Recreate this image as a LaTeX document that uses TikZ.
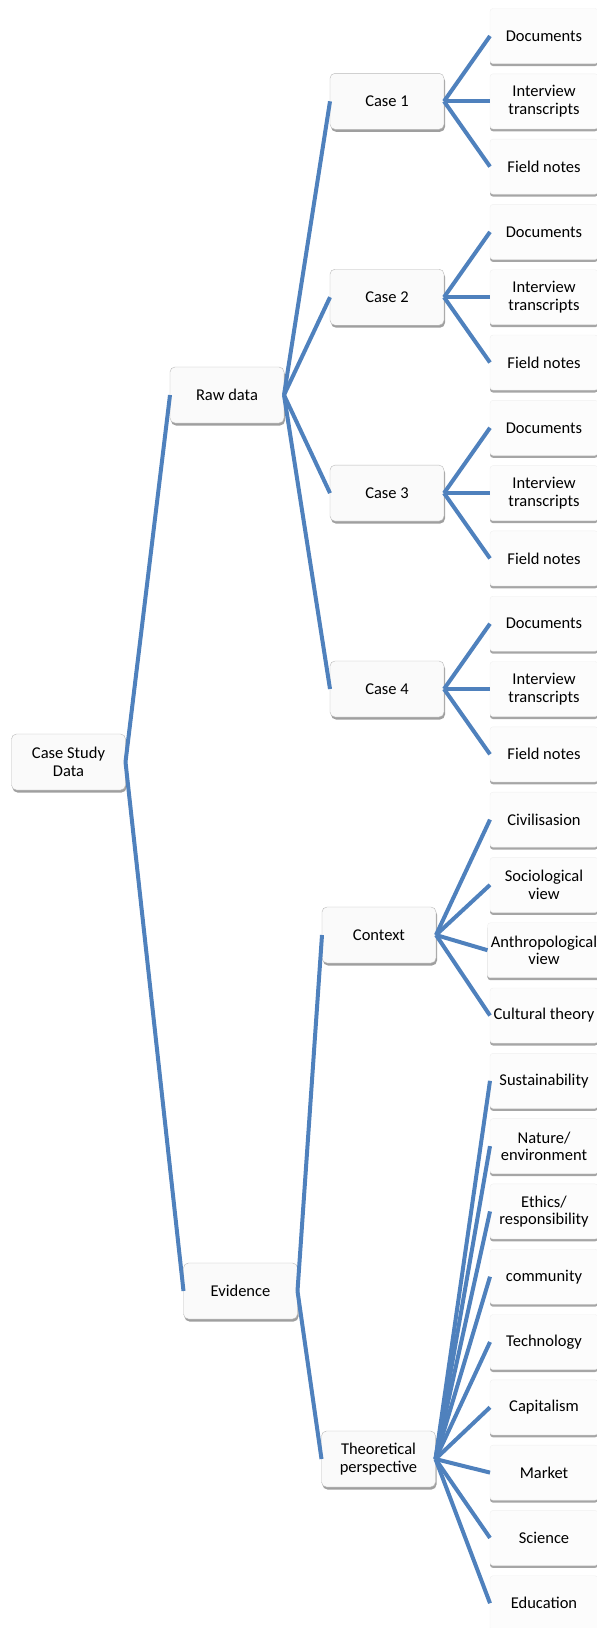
\documentclass[tikz,border=0pt]{standalone}
\usepackage{fontspec}
\setmainfont{Carlito}
\usetikzlibrary{positioning}
\usetikzlibrary{shadows}

\definecolor{linkblue}{RGB}{79,129,189}

\begin{document}
\begin{tikzpicture}[x=1pt,y=-1pt,font=\fontsize{16.5}{17.5}\selectfont,
	topic/.style={minimum width=114pt,minimum height=56pt,outer sep=0pt,align=center,rounded corners=5pt,draw=gray!55,fill=gray!4,drop shadow={shadow xshift=1pt,shadow yshift=-2.5pt,fill=gray!75,opacity=1}},
	leaf/.style={minimum width=108pt,minimum height=55pt,outer sep=0pt,align=center,rounded corners=3pt,draw=gray!12,fill=gray!2,drop shadow={shadow xshift=0pt,shadow yshift=-2.5pt,fill=gray!70,opacity=1}},
	link/.style={draw=linkblue,line width=4pt}]
	\clip (0,0) rectangle (597,1628);

	% leaves, top to bottom
	\node [leaf] at (544,36) (c1doc) {Documents};
	\node [leaf,below=10.3pt of c1doc] (c1int) {Interview\\transcripts};
	\node [leaf,below=10.3pt of c1int] (c1fld) {Field notes};
	\node [leaf,below=10.3pt of c1fld] (c2doc) {Documents};
	\node [leaf,below=10.3pt of c2doc] (c2int) {Interview\\transcripts};
	\node [leaf,below=10.3pt of c2int] (c2fld) {Field notes};
	\node [leaf,below=10.3pt of c2fld] (c3doc) {Documents};
	\node [leaf,below=10.3pt of c3doc] (c3int) {Interview\\transcripts};
	\node [leaf,below=10.3pt of c3int] (c3fld) {Field notes};
	\node [leaf,below=10.3pt of c3fld] (c4doc) {Documents};
	\node [leaf,below=10.3pt of c4doc] (c4int) {Interview\\transcripts};
	\node [leaf,below=10.3pt of c4int] (c4fld) {Field notes};

	\node [leaf,below=10.3pt of c4fld] (civ) {Civilisasion};
	\node [leaf,below=10.3pt of civ] (soc) {Sociological\\view};
	\node [leaf,below=10.3pt of soc] (ant) {Anthropological\\view};
	\node [leaf,below=10.3pt of ant] (cul) {Cultural theory};

	\node [leaf,below=10.3pt of cul] (sus) {Sustainability};
	\node [leaf,below=10.3pt of sus] (nat) {Nature/\\environment};
	\node [leaf,below=10.3pt of nat] (eth) {Ethics/\\responsibility};
	\node [leaf,below=10.3pt of eth] (com) {community};
	\node [leaf,below=10.3pt of com] (tec) {Technology};
	\node [leaf,below=10.3pt of tec] (cap) {Capitalism};
	\node [leaf,below=10.3pt of cap] (mkt) {Market};
	\node [leaf,below=10.3pt of mkt] (sci) {Science};
	\node [leaf,below=10.3pt of sci] (edu) {Education};

	% inner levels
	\node [topic] at (68.5,762) (csd) {Case Study\\Data};
	\node [topic] at (227,395) (raw) {Raw data};
	\node [topic,left=46pt of c1int] (case1) {Case 1};
	\node [topic,left=46pt of c2int] (case2) {Case 2};
	\node [topic,left=46pt of c3int] (case3) {Case 3};
	\node [topic,left=46pt of c4int] (case4) {Case 4};
	\node [topic] at (240.5,1291) (evid) {Evidence};
	\node [topic] at (379,935) (ctx) {Context};
	\node [topic] at (378.5,1459) (theo) {Theoretical\\perspective};

	\draw[link] (csd.east) -- (raw.west);
	\draw[link] (csd.east) -- (evid.west);
	\draw[link] (raw.east) -- (case1.west);
	\draw[link] (raw.east) -- (case2.west);
	\draw[link] (raw.east) -- (case3.west);
	\draw[link] (raw.east) -- (case4.west);
	\draw[link] (evid.east) -- (ctx.west);
	\draw[link] (evid.east) -- (theo.west);

	\draw[link] (case1.east) -- (c1doc.west);
	\draw[link] (case1.east) -- (c1int.west);
	\draw[link] (case1.east) -- (c1fld.west);
	\draw[link] (case2.east) -- (c2doc.west);
	\draw[link] (case2.east) -- (c2int.west);
	\draw[link] (case2.east) -- (c2fld.west);
	\draw[link] (case3.east) -- (c3doc.west);
	\draw[link] (case3.east) -- (c3int.west);
	\draw[link] (case3.east) -- (c3fld.west);
	\draw[link] (case4.east) -- (c4doc.west);
	\draw[link] (case4.east) -- (c4int.west);
	\draw[link] (case4.east) -- (c4fld.west);

	\draw[link] (ctx.east) -- (civ.west);
	\draw[link] (ctx.east) -- (soc.west);
	\draw[link] (ctx.east) -- (ant.west);
	\draw[link] (ctx.east) -- (cul.west);

	\draw[link] (theo.east) -- (sus.west);
	\draw[link] (theo.east) -- (nat.west);
	\draw[link] (theo.east) -- (eth.west);
	\draw[link] (theo.east) -- (com.west);
	\draw[link] (theo.east) -- (tec.west);
	\draw[link] (theo.east) -- (cap.west);
	\draw[link] (theo.east) -- (mkt.west);
	\draw[link] (theo.east) -- (sci.west);
	\draw[link] (theo.east) -- (edu.west);
\end{tikzpicture}
\end{document}
